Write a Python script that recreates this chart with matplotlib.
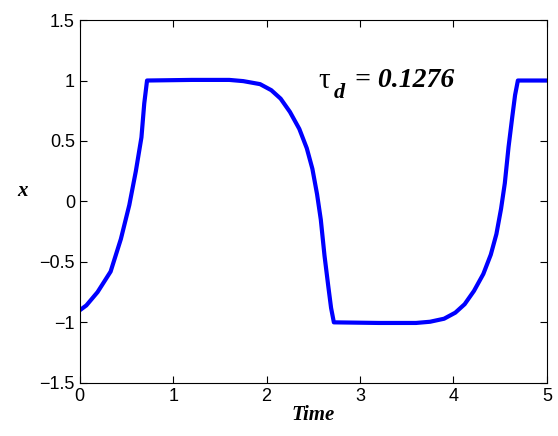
import matplotlib
matplotlib.use("Agg")
import matplotlib.pyplot as plt

t = [0, 0.07, 0.19, 0.33, 0.44, 0.53, 0.60, 0.66, 0.69, 0.72,
     1.2, 1.6, 1.75, 1.93, 2.05, 2.15, 2.25, 2.35, 2.43, 2.49, 2.54, 2.58, 2.62, 2.66, 2.69, 2.72,
     3.2, 3.6, 3.75, 3.9, 4.02, 4.12, 4.22, 4.32, 4.40, 4.46, 4.51, 4.55, 4.59, 4.63, 4.66, 4.69, 5.0]
x = [-0.9, -0.86, -0.75, -0.58, -0.31, -0.03, 0.25, 0.53, 0.81, 1.0,
     1.005, 1.005, 0.995, 0.97, 0.92, 0.85, 0.74, 0.6, 0.44, 0.27, 0.06, -0.15, -0.45, -0.7, -0.88, -1.0,
     -1.005, -1.005, -0.995, -0.97, -0.92, -0.85, -0.74, -0.6, -0.44, -0.27, -0.06, 0.15, 0.45, 0.7, 0.88, 1.0, 1.0]
xticks = [0, 1, 2, 3, 4, 5]
yticks = [-1.5, -1, -0.5, 0, 0.5, 1, 1.5]
ylabels = ['\u22121.5', '\u22121', '\u22120.5', '0', '0.5', '1', '1.5']

fig = plt.figure(figsize=(5.58, 4.36), dpi=100)
ax = fig.add_axes([0.143, 0.122, 0.837, 0.832])
ax.plot(t, x, color='#0000ff', lw=3)
ax.set_xlim(0, 5)
ax.set_ylim(-1.5, 1.5)
ax.set_xticks(xticks)
ax.set_yticks(yticks)
ax.set_yticklabels(ylabels)
ax.tick_params(direction='in', labelsize=13, top=True, right=True, length=5)
for l in ax.get_xticklabels() + ax.get_yticklabels():
    l.set_family('Liberation Sans')
ax.set_xlabel('Time', fontsize=15, family='Liberation Serif', weight='bold', style='italic', labelpad=0)
ax.set_ylabel('x', fontsize=15, family='Liberation Serif', weight='bold', style='italic', rotation=0, labelpad=12)
bi = dict(family='Liberation Serif', weight='bold', style='italic')
ax.text(2.55, 1.0, '\u03c4', fontsize=21, family='Liberation Serif', va='center', ha='left')
ax.annotate('d', (2.55, 1.0), xytext=(11, -9), textcoords='offset points', fontsize=16, va='center', ha='left', **bi)
ax.annotate('= 0.1276', (2.55, 1.0), xytext=(27, 0), textcoords='offset points', fontsize=20, va='center', ha='left', **bi)
fig.savefig('out.png')
